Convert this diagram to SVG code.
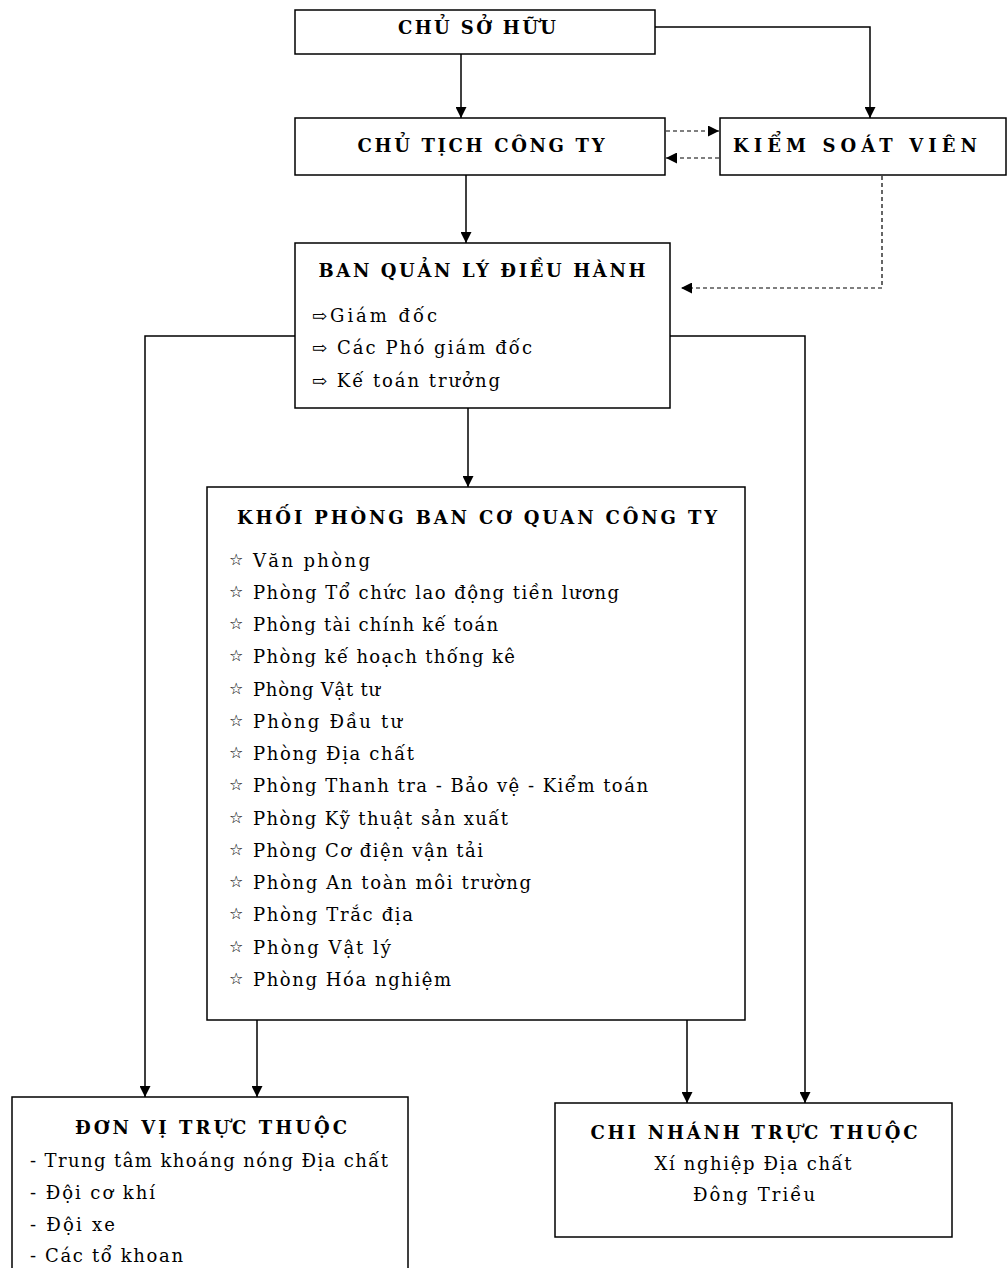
<svg xmlns="http://www.w3.org/2000/svg" width="1007" height="1268" viewBox="0 0 1007 1268">
<defs>
<marker id="ah" viewBox="0 0 10 10" refX="10" refY="5" markerWidth="11" markerHeight="11" markerUnits="userSpaceOnUse" orient="auto"><path d="M0,0 L10,5 L0,10 z" fill="#000"/></marker>
<style>
.box{fill:#fff;stroke:#000;stroke-width:1.5}
.t{font-family:"DejaVu Serif","Liberation Serif",serif;font-size:18px;font-weight:bold;fill:#000;text-anchor:middle}
.i{font-family:"DejaVu Serif","Liberation Serif",serif;font-size:18px;fill:#000}
.c{text-anchor:middle}
.st{font-family:"DejaVu Sans",sans-serif;font-size:16px;fill:#000;font-weight:bold}
.ln{fill:none;stroke:#000;stroke-width:1.5}
.dl{fill:none;stroke:#000;stroke-width:1.2;stroke-dasharray:4 3}
</style>
</defs>
<rect width="1007" height="1268" fill="#fff"/>
<g id="connectors">
<path class="ln" d="M461,54 V118" marker-end="url(#ah)"/>
<path class="ln" d="M655,27 H870 V118" marker-end="url(#ah)"/>
<path class="dl" d="M666,131 H719" marker-end="url(#ah)"/>
<path class="dl" d="M719,158 H666" marker-end="url(#ah)"/>
<path class="ln" d="M466,175 V243" marker-end="url(#ah)"/>
<path class="dl" d="M882,176 V288 H681" marker-end="url(#ah)"/>
<path class="ln" d="M295,336 H145 V1097" marker-end="url(#ah)"/>
<path class="ln" d="M670,336 H805 V1103" marker-end="url(#ah)"/>
<path class="ln" d="M468,408 V487" marker-end="url(#ah)"/>
<path class="ln" d="M257,1020 V1097" marker-end="url(#ah)"/>
<path class="ln" d="M687,1020 V1103" marker-end="url(#ah)"/>
</g>
<g id="chu-so-huu">
<rect class="box" x="295" y="10" width="360" height="44"/>
<text class="t" x="477" y="34" textLength="158" lengthAdjust="spacing">CHỦ SỞ HỮU</text>
</g>
<g id="chu-tich">
<rect class="box" x="295" y="118" width="370" height="57"/>
<text class="t" x="481" y="152" textLength="247" lengthAdjust="spacing">CHỦ TỊCH CÔNG TY</text>
</g>
<g id="kiem-soat-vien">
<rect class="box" x="720" y="118" width="286" height="57"/>
<text class="t" x="855" y="152" textLength="244" lengthAdjust="spacing">KIỂM SOÁT VIÊN</text>
</g>
<g id="ban-quan-ly">
<rect class="box" x="295" y="243" width="375" height="165"/>
<text class="t" x="482" y="277" textLength="327" lengthAdjust="spacing">BAN QUẢN LÝ ĐIỀU HÀNH</text>
<text class="i" x="312" y="322" textLength="125" lengthAdjust="spacing">⇨Giám đốc</text>
<text class="i" x="312" y="354" textLength="220" lengthAdjust="spacing">⇨ Các Phó giám đốc</text>
<text class="i" x="312" y="387" textLength="188" lengthAdjust="spacing">⇨ Kế toán trưởng</text>
</g>
<g id="khoi-phong-ban">
<rect class="box" x="207" y="487" width="538" height="533"/>
<text class="t" x="477" y="524" textLength="480" lengthAdjust="spacing">KHỐI PHÒNG BAN CƠ QUAN CÔNG TY</text>
<g class="st">
<text x="229" y="565">☆</text><text x="229" y="597">☆</text><text x="229" y="629">☆</text><text x="229" y="661">☆</text>
<text x="229" y="694">☆</text><text x="229" y="726">☆</text><text x="229" y="758">☆</text><text x="229" y="790">☆</text>
<text x="229" y="823">☆</text><text x="229" y="855">☆</text><text x="229" y="887">☆</text><text x="229" y="919">☆</text>
<text x="229" y="952">☆</text><text x="229" y="984">☆</text>
</g>
<text class="i" x="253" y="567" textLength="117" lengthAdjust="spacing">Văn phòng</text>
<text class="i" x="253" y="599" textLength="366" lengthAdjust="spacing">Phòng Tổ chức lao động tiền lương</text>
<text class="i" x="253" y="631" textLength="245" lengthAdjust="spacing">Phòng tài chính kế toán</text>
<text class="i" x="253" y="663" textLength="262" lengthAdjust="spacing">Phòng kế hoạch thống kê</text>
<text class="i" x="253" y="696" textLength="127" lengthAdjust="spacing">Phòng Vật tư</text>
<text class="i" x="253" y="728" textLength="149" lengthAdjust="spacing">Phòng Đầu tư</text>
<text class="i" x="253" y="760" textLength="161" lengthAdjust="spacing">Phòng Địa chất</text>
<text class="i" x="253" y="792" textLength="395" lengthAdjust="spacing">Phòng Thanh tra - Bảo vệ - Kiểm toán</text>
<text class="i" x="253" y="825" textLength="255" lengthAdjust="spacing">Phòng Kỹ thuật sản xuất</text>
<text class="i" x="253" y="857" textLength="230" lengthAdjust="spacing">Phòng Cơ điện vận tải</text>
<text class="i" x="253" y="889" textLength="278" lengthAdjust="spacing">Phòng An toàn môi trường</text>
<text class="i" x="253" y="921" textLength="160" lengthAdjust="spacing">Phòng Trắc địa</text>
<text class="i" x="253" y="954" textLength="138" lengthAdjust="spacing">Phòng Vật lý</text>
<text class="i" x="253" y="986" textLength="198" lengthAdjust="spacing">Phòng Hóa nghiệm</text>
</g>
<g id="don-vi-truc-thuoc">
<rect class="box" x="12" y="1097" width="396" height="200"/>
<text class="t" x="211" y="1134" textLength="272" lengthAdjust="spacing">ĐƠN VỊ TRỰC THUỘC</text>
<text class="i" x="30" y="1167" textLength="358" lengthAdjust="spacing">- Trung tâm khoáng nóng Địa chất</text>
<text class="i" x="30" y="1199" textLength="125" lengthAdjust="spacing">- Đội cơ khí</text>
<text class="i" x="30" y="1231" textLength="85" lengthAdjust="spacing">- Đội xe</text>
<text class="i" x="30" y="1262" textLength="153" lengthAdjust="spacing">- Các tổ khoan</text>
</g>
<g id="chi-nhanh-truc-thuoc">
<rect class="box" x="555" y="1103" width="397" height="134"/>
<text class="t" x="754" y="1139" textLength="327" lengthAdjust="spacing">CHI NHÁNH TRỰC THUỘC</text>
<text class="i c" x="753" y="1170" textLength="197" lengthAdjust="spacing">Xí nghiệp Địa chất</text>
<text class="i c" x="754" y="1201" textLength="122" lengthAdjust="spacing">Đông Triều</text>
</g>
</svg>
